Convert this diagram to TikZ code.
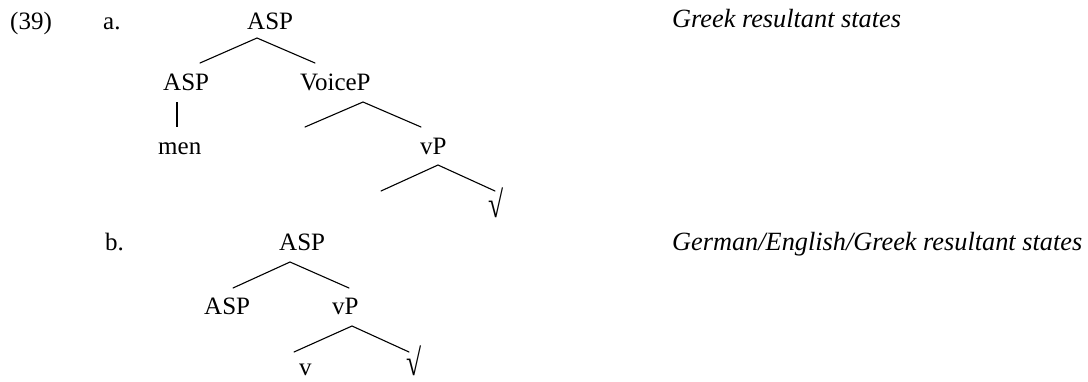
\documentclass[tikz,border=0pt]{standalone}
\usepackage{fontspec}
\setmainfont{Liberation Serif}
\begin{document}
\begin{tikzpicture}[x=1pt,y=-1pt,
  lbl/.style={anchor=base west, inner sep=0pt, font=\fontsize{25}{30}\selectfont},
  ital/.style={lbl, font=\fontsize{26.3}{31}\selectfont\itshape},
  branch/.style={line width=1.1pt, line cap=round},
  stem/.style={line width=1.7pt}]
\useasboundingbox (0,0) rectangle (1088,381);
% labels
\node[lbl] (ex) at (10,29) {(39)};
\node[lbl] (la) at (103,29) {a.};
\node[lbl] (lb) at (105,250) {b.};
\node[ital] (ga) at (672,27) {Greek resultant states};
\node[ital] (gb) at (672,250) {German/English/Greek resultant states};
% tree a
\node[lbl] (aAsp) at (247,29) {ASP};
\node[lbl] (aAsp2) at (163,90) {ASP};
\node[lbl] (aVoice) at (300,90) {VoiceP};
\node[lbl] (aMen) at (158,154) {men};
\node[lbl] (aVP) at (420,154) {vP};
\node[lbl] (aRoot) at (488,217) {\scalebox{1.1}[1.5]{√}};
\coordinate (a1) at (257,38);
\coordinate (a1l) at (200,63);
\coordinate (a1r) at (315,63);
\coordinate (a2) at (363,102);
\coordinate (a2l) at (305,127);
\coordinate (a2r) at (421,127);
\coordinate (a3) at (438,165);
\coordinate (a3l) at (381,191);
\coordinate (a3r) at (495,191);
\coordinate (s1) at (177,102);
\coordinate (s2) at (177,127);
\draw[branch] (a1l) -- (a1) -- (a1r);
\draw[branch] (a2l) -- (a2) -- (a2r);
\draw[branch] (a3l) -- (a3) -- (a3r);
\draw[stem] (s1) -- (s2);
% tree b
\node[lbl] (bAsp) at (279,250) {ASP};
\node[lbl] (bAsp2) at (204,314) {ASP};
\node[lbl] (bVP) at (332,314) {vP};
\node[lbl] (bV) at (299,375) {v};
\node[lbl] (bRoot) at (406,375) {\scalebox{1.1}[1.5]{√}};
\coordinate (b1) at (290,262);
\coordinate (b1l) at (233,288);
\coordinate (b1r) at (349,288);
\coordinate (b2) at (352,326);
\coordinate (b2l) at (294,352);
\coordinate (b2r) at (409,352);
\draw[branch] (b1l) -- (b1) -- (b1r);
\draw[branch] (b2l) -- (b2) -- (b2r);
\end{tikzpicture}
\end{document}
